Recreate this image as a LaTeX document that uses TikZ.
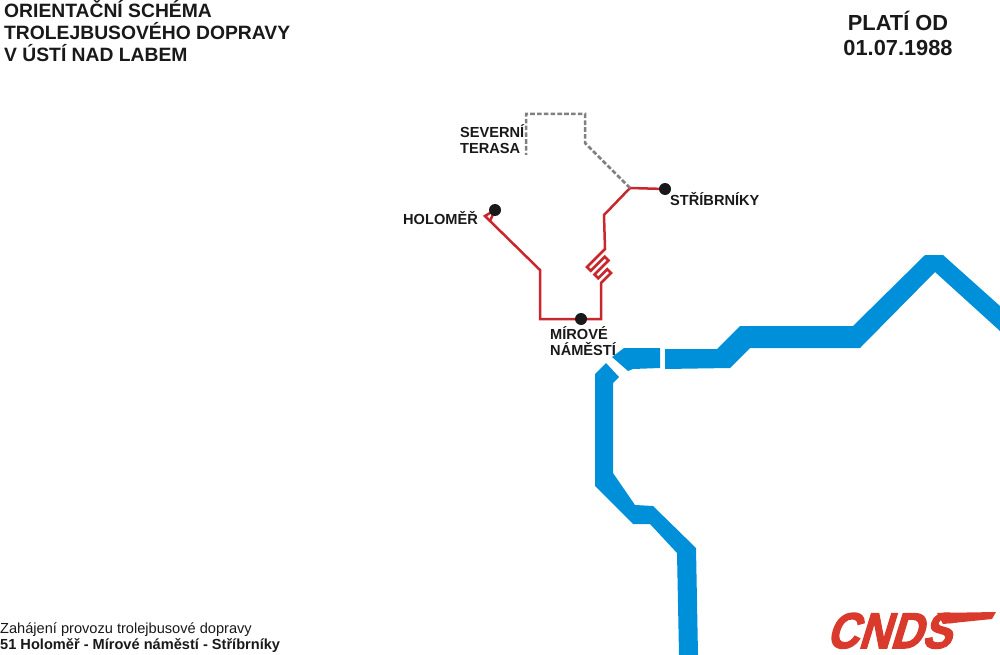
\documentclass[tikz,border=0pt]{standalone}
\usepackage{fontspec}
\setmainfont{Liberation Sans}
\newfontfamily\logofont[FakeBold=3,FakeSlant=0.35]{Liberation Sans Bold}
\usetikzlibrary{positioning}
\definecolor{riverblue}{HTML}{0090DA}
\definecolor{linered}{HTML}{C8282D}
\definecolor{logored}{HTML}{D93A2B}
\tikzset{
  % Specifications for style of nodes:
  river/.style = {
    fill=riverblue,
    draw=none
  },
  line51/.style = {
    draw=linered,
    line width=2.5pt,
    line join=miter
  },
  planned/.style = {
    draw=black!50,
    line width=2.5pt,
    dash pattern=on 4.6pt off 2.2pt
  },
  stop/.style = {
    circle,
    fill=black!90,
    minimum size=12pt,
    inner sep=0pt
  },
  stoplabel/.style = {
    font=\bfseries\fontsize{14.6}{16}\selectfont,
    text=black!90,
    align=left,
    inner sep=0pt
  },
  headline/.style = {
    font=\bfseries\fontsize{19.3}{22}\selectfont,
    text=black!90,
    inner sep=0pt
  },
}
\begin{document}
\begin{tikzpicture}[x=1pt, y=-1pt]
    \useasboundingbox (0, 0) rectangle (1000, 655);
    % River
    \fill[river] (612, 357) -- (624, 348) -- (660, 348) -- (660, 368) -- (633, 369) -- (628, 371) -- cycle;
    \fill[river] (665, 349) -- (717, 349) -- (740, 326) -- (853, 326) -- (925, 255) -- (943, 255)
      -- (1000, 306) -- (1000, 331) -- (935, 272) -- (860, 348) -- (750, 348) -- (730, 368) -- (665, 369) -- cycle;
    \fill[river] (595, 374) -- (606, 363) -- (619, 377) -- (613, 383) -- (613, 473) -- (635, 505)
      -- (653, 506) -- (696, 548) -- (698, 655) -- (679, 655) -- (677, 553) -- (650, 524) -- (633, 524)
      -- (595, 486) -- cycle;
    % Line 51
    \coordinate (fork) at (630, 188);
    \coordinate (loopend) at (490, 221);
    \coordinate (holomerend) at (495, 210);
    \draw[line51] (holomerend) -- (485, 216) -- (loopend) -- (540, 270) -- (540, 319) -- (601, 319) -- (601, 283)
      -- (611, 273) -- (607.25, 269.25) -- (598.25, 278.25) -- (594.5, 274.5) -- (608.5, 260.5) -- (604.75, 256.75)
      -- (590.75, 270.75) -- (587, 267) -- (605, 249) -- (604, 215) -- (fork) -- (665, 189);
    \draw[line51] (loopend) -- (holomerend);
    \draw[planned] (fork) -- (585, 143) -- (585, 114) -- (526, 114) -- (526, 155);
    % Stops
    \node[stop] (holomer)    at (holomerend) {};
    \node[stop] (mirove)     at (581, 319) {};
    \node[stop] (stribrniky) at (665, 189) {};
    % Labels
    \node[stoplabel, anchor=north west] (holomerlabel) at (403, 211) {HOLOMĚŘ};
    \node[stoplabel, anchor=north west] (mirovelabel)  at (550, 326) {MÍROVÉ\\NÁMĚSTÍ};
    \node[stoplabel, anchor=north west] (striblabel)   at (670, 192) {STŘÍBRNÍKY};
    \node[stoplabel, anchor=north west] (severlabel)   at (460, 124) {SEVERNÍ\\TERASA};
    \node[headline, anchor=north west, align=left] (title) at (4, 0) {ORIENTAČNÍ SCHÉMA\\TROLEJBUSOVÉHO DOPRAVY\\V ÚSTÍ NAD LABEM};
    \node[headline, anchor=north, align=center, font=\bfseries\fontsize{21.8}{25}\selectfont] (valid) at (898, 11) {PLATÍ OD\\01.07.1988};
    \node[anchor=south west, inner sep=0pt, align=left, font=\fontsize{14.6}{16}\selectfont, text=black!90] (note) at (0, 653)
      {Zahájení provozu trolejbusové dopravy\\\textbf{51 Holoměř - Mírové náměstí - Stříbrníky}};
    % Logo
    \fill[logored] (937, 613) -- (996, 612) -- (992, 619) -- (943, 624) -- cycle;
    \node[anchor=base west, inner sep=0pt, text=logored, font=\logofont\fontsize{50}{50}\selectfont, xscale=0.88] (logo) at (826, 648) {CNDS};
\end{tikzpicture}
\end{document}
